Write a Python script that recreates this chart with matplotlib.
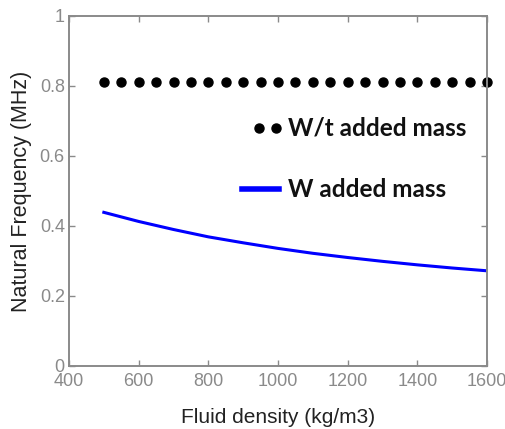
import matplotlib
matplotlib.use("Agg")
import matplotlib.pyplot as plt
from matplotlib.ticker import FormatStrFormatter

# W/t added mass: constant natural frequency
rho_dots = [500, 550, 600, 650, 700, 750, 800, 850, 900, 950, 1000, 1050,
            1100, 1150, 1200, 1250, 1300, 1350, 1400, 1450, 1500, 1550, 1600]
freq_dots = [0.812] * len(rho_dots)

# W added mass
rho_line = [500, 600, 700, 800, 900, 1000, 1100, 1200, 1300, 1400, 1500, 1600]
freq_line = [0.439, 0.413, 0.390, 0.369, 0.352, 0.336, 0.322, 0.310,
             0.299, 0.289, 0.280, 0.272]

xticks = [400, 600, 800, 1000, 1200, 1400, 1600]
yticks = [0, 0.2, 0.4, 0.6, 0.8, 1]

plt.rcParams["font.family"] = ["Liberation Sans", "DejaVu Sans"]

fig = plt.figure(figsize=(5.05, 4.29), dpi=100)
ax = fig.add_axes([69 / 505, 1 - 366 / 429, 418 / 505, 350 / 429])

ax.plot(rho_dots, freq_dots, "o", color="black", markersize=6.5, clip_on=False)
ax.plot(rho_line, freq_line, "-", color="#0000ff", linewidth=2.2)

ax.set_xlim(400, 1600)
ax.set_ylim(0, 1)
ax.set_xticks(xticks)
ax.set_yticks(yticks)
ax.yaxis.set_major_formatter(FormatStrFormatter("%g"))

grey = "#8a8a8a"
for s in ax.spines.values():
    s.set_color(grey)
    s.set_linewidth(1.4)
ax.tick_params(direction="in", length=4, width=1, color=grey,
               labelcolor=grey, labelsize=13, top=True, right=True)
ax.tick_params(axis="x", pad=5)
ax.tick_params(axis="y", pad=3)

ax.set_xlabel("Fluid density (kg/m3)", fontsize=15, color="#222222")
ax.set_ylabel("Natural Frequency (MHz)", fontsize=15.5, color="#222222")
ax.xaxis.set_label_coords(0.5, -0.12)
ax.yaxis.set_label_coords(-0.088, 0.5)

# legend keys and labels, placed by hand like the original
tr = ax.transAxes
def ax_x(px):
    return (px - 69) / 418
def ax_y(py):
    return (366 - py) / 350

ax.plot([ax_x(259), ax_x(276)], [ax_y(128)] * 2, "o", color="black",
        markersize=6.5, transform=tr)
ax.plot([ax_x(242), ax_x(279)], [ax_y(189)] * 2, "-", color="#0000ff",
        linewidth=4, transform=tr)
ax.text(ax_x(288), ax_y(128), "W/t added mass", transform=tr, fontsize=17.5,
        fontweight="bold", family=["Lato", "DejaVu Sans"], va="center",
        color="#111111")
ax.text(ax_x(288), ax_y(189), "W added mass", transform=tr, fontsize=17.5,
        fontweight="bold", family=["Lato", "DejaVu Sans"], va="center",
        color="#111111")

fig.savefig("out.png", dpi=100)
